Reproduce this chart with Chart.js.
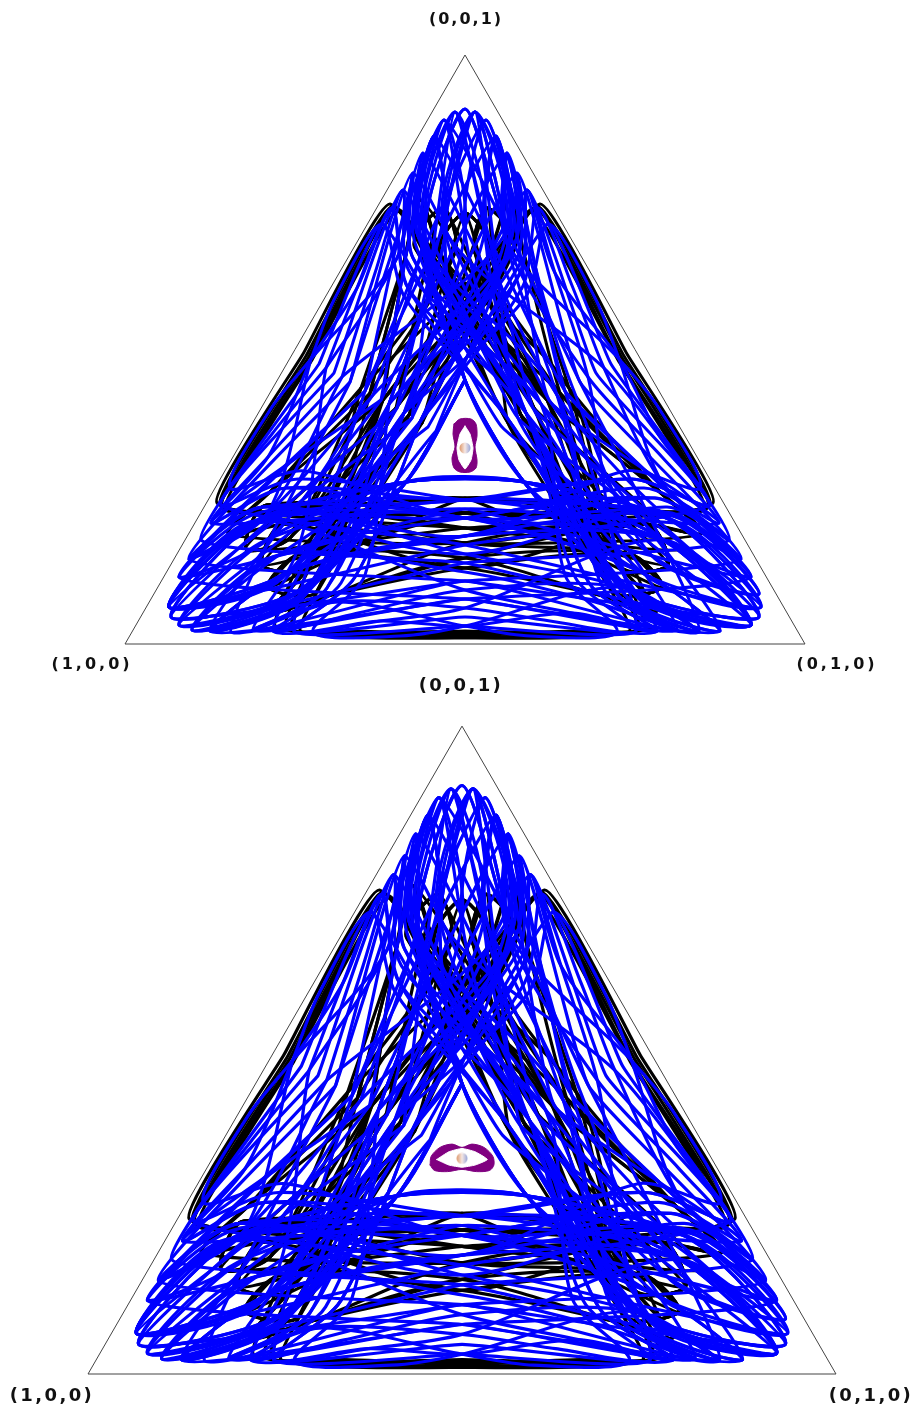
<!DOCTYPE html>
<html>
<head>
<meta charset="utf-8">
<script src="https://cdn.jsdelivr.net/npm/chart.js@4"></script>
<style>
  html, body { margin: 0; background: #fff; }
  body { position: relative; width: 914px; height: 1407px; overflow: hidden; }
  canvas { position: absolute; left: 0; }
  .corner { position: absolute; transform: translate(-50%, -50%); font-family: "DejaVu Sans"; font-weight: bold; color: #111; white-space: nowrap; }
</style>
</head>
<body>
<canvas id="topChart" width="914" height="690" style="top:0"></canvas>
<canvas id="bottomChart" width="914" height="735" style="top:672px"></canvas>
<script>
// simplex outline, same units for both panels (base 680, height 589)
const triangleX = [0, 680, 340, 0];
const triangleY = [0, 0, 589, 0];
const restPoint = [340, 196];

// innermost blue turns, they pass the three corners of the white triangle
const blueInnerTurns = [
  [380,414,340,535,300,414,340,264,399,162,509,52,634,27,549,122,399,162,281,162,131,122,46,27,171,52,281,162,340,264],
  [382,414,350,532,320,414,340,264,399,162,519,70,636,37,550,123,399,162,281,162,131,122,46,27,171,52,281,162,340,264],
  [360,414,330,532,298,414,340,264,399,162,509,52,634,27,549,122,399,162,281,162,130,123,44,37,161,70,281,162,340,264],
  [380,414,340,535,300,414,340,264,399,162,508,51,626,19,539,104,399,162,281,162,141,104,54,19,172,51,281,162,340,264],
  [340,411,319,524,295,411,340,264,399,162,508,51,626,19,539,104,399,162,281,162,130,123,44,37,161,70,281,162,340,264],
  [382,414,350,532,320,414,340,264,399,162,508,51,626,19,539,104,399,162,281,162,154,89,67,14,177,50,281,162,340,264]
];

// x,y pairs read along the blue orbit, one closed turn per row
const blueTurns = [
  [385,411,361,524,340,411,401,231,519,70,636,37,550,123,340,144,141,104,54,19,172,51,311,213],
  [320,408,309,508,293,408,401,231,500,49,595,13,514,73,340,126,130,123,44,37,161,70,264,240],
  [387,408,371,508,360,408,401,231,508,51,626,19,539,104,340,108,166,73,85,13,180,49,295,222],
  [250,371,278,454,285,371,416,240,500,49,595,13,514,73,340,126,138,137,64,85,142,130,217,267],
  [390,401,382,491,382,401,463,267,537,187,594,121,519,156,340,126,130,123,44,37,161,70,279,231],
  [360,414,330,532,298,414,401,231,492,50,574,12,496,57,340,54,233,31,148,13,216,61,279,231],
  [210,346,257,420,280,346,385,222,492,50,574,12,496,57,340,90,138,137,64,85,142,130,186,285],
  [390,401,382,491,382,401,494,285,535,234,575,156,500,173,340,108,138,137,64,85,142,130,248,249],
  [390,401,382,491,382,401,432,249,492,50,574,12,496,57,340,18,275,8,188,12,240,69,264,240],
  [232,356,267,436,283,356,385,222,508,51,626,19,539,104,340,126,161,156,86,121,143,187,186,285],
  [395,371,402,454,430,371,494,285,533,210,584,139,507,165,340,144,130,123,44,37,161,70,279,231],
  [382,414,350,532,320,414,401,231,464,61,532,13,447,31,340,18,255,23,169,13,230,67,295,222],
  [232,356,267,436,283,356,401,231,464,61,532,13,447,31,340,54,130,123,44,37,161,70,201,276],
  [382,414,350,532,320,414,479,276,533,210,584,139,507,165,340,144,161,156,86,121,143,187,217,267],
  [395,371,402,454,430,371,463,267,508,51,626,19,539,104,340,36,255,23,169,13,230,67,295,222],
  [400,346,423,420,470,346,494,285,538,160,604,104,530,146,340,108,166,73,85,13,180,49,279,231],
  [320,408,309,508,293,408,416,240,440,69,492,12,405,8,340,18,210,42,128,14,202,56,264,240],
  [272,386,288,471,288,386,416,240,534,107,626,67,547,131,340,126,180,173,105,156,145,234,186,285],
  [392,386,392,471,408,386,447,258,526,89,634,50,548,128,340,108,166,73,85,13,180,49,264,240],
  [320,408,309,508,293,408,432,249,478,56,552,14,470,42,340,72,154,89,67,14,177,50,264,240],
  [387,408,371,508,360,408,432,249,538,130,616,85,542,137,340,90,130,123,44,37,161,70,295,222],
  [298,401,298,491,290,401,385,222,508,51,626,19,539,104,340,144,133,131,54,67,146,107,248,249],
  [397,356,413,436,448,356,479,276,538,160,604,104,530,146,340,126,154,89,67,14,177,50,295,222],
  [340,411,319,524,295,411,401,231,450,67,511,13,425,23,340,36,210,42,128,14,202,56,279,231],
  [272,386,288,471,288,386,401,231,526,89,634,50,548,128,340,144,173,165,96,139,147,210,201,276]
];

// the nearly straight blue turns that run parallel to the sides
const blueSideTurns = [
  [257,420,377,217,626,19,340,81,76,104,194,280],
  [278,454,393,226,636,37,340,99,96,139,209,271],
  [288,471,408,236,634,27,340,63,64,85,225,262],
  [298,491,424,244,595,13,340,45,54,67,240,253],
  [309,508,440,253,626,67,340,135,86,121,256,244],
  [423,420,486,280,604,104,340,81,54,19,303,217],
  [402,454,471,271,584,139,340,99,44,37,287,226],
  [392,471,455,262,616,85,340,63,46,27,272,236],
  [382,491,440,253,626,67,340,45,85,13,256,244],
  [371,508,424,244,594,121,340,135,54,67,240,253],
  [350,532,393,226,532,13,340,27,148,13,272,236],
  [330,532,408,236,552,14,340,45,128,14,287,226],
  [361,524,440,253,511,13,340,18,169,13,240,253],
  [319,524,455,262,574,12,340,63,106,12,225,262]
];

// x,y pairs read along the black orbit
const blackTurns = [
  [235,381,270,436,305,386,396,229,496,77,543,79,521,120,340,131,158,131,97,137,128,195,186,285],
  [375,386,410,436,445,381,494,285,552,195,583,137,522,131,340,131,159,120,137,79,184,77,284,229],
  [365,391,340,431,315,391,396,229,487,71,513,15,447,13,340,10,233,13,167,15,193,71,284,229],
  [280,386,295,444,315,391,396,229,488,53,537,57,504,90,340,116,142,139,121,95,166,107,245,251],
  [390,396,362,436,350,391,435,251,534,153,577,111,521,120,340,131,142,139,121,95,166,107,271,236],
  [390,396,362,436,350,391,409,236,488,53,537,57,504,90,340,86,206,49,148,33,184,77,284,229],
  [280,386,295,444,315,391,409,236,488,53,537,57,504,90,340,101,142,139,121,95,166,107,236,256],
  [390,396,362,436,350,391,444,256,534,153,577,111,521,120,340,116,142,139,121,95,166,107,258,244],
  [390,396,362,436,350,391,422,244,488,53,537,57,504,90,340,76,206,49,148,33,184,77,271,236],
  [365,391,340,431,315,391,422,244,496,77,543,79,521,120,340,101,159,120,137,79,184,77,258,244],
  [365,391,340,431,315,391,444,256,496,77,543,79,521,120,340,76,159,120,137,79,184,77,236,256],
  [365,391,385,444,400,386,444,256,496,77,543,79,521,120,340,86,206,49,148,33,184,77,284,229],
  [330,391,318,436,290,396,435,251,534,153,577,111,521,120,340,131,159,120,103,111,146,153,236,256],
  [280,386,295,444,315,391,396,229,496,77,532,33,474,49,340,76,176,90,143,57,192,53,245,251],
  [365,391,385,444,400,386,435,251,496,77,543,79,521,120,340,101,206,49,148,33,184,77,297,221],
  [280,386,295,444,315,391,383,221,496,77,532,33,474,49,340,86,176,90,143,57,192,53,258,244],
  [330,391,318,436,290,396,422,244,534,153,577,111,521,120,340,146,159,120,103,111,146,153,245,251]
];

// black turns of the thick band just inside each side
const blackBandTurns = [
  [270,436,396,229,543,79,340,131,97,137,183,286],
  [268,438,409,236,559,95,340,116,95,139,181,288],
  [273,433,383,221,537,57,340,146,100,134,187,284],
  [265,440,422,244,577,111,340,101,92,141,178,290],
  [410,436,497,286,583,137,340,131,137,79,284,229],
  [412,438,499,288,585,139,340,116,121,95,271,236],
  [407,433,493,284,580,134,340,146,143,57,297,221],
  [415,440,502,290,588,141,340,101,103,111,258,244],
  [340,431,396,229,513,15,340,8,167,15,284,229],
  [318,436,409,236,520,16,340,11,160,16,271,236],
  [362,436,383,221,505,14,340,6,175,14,297,221],
  [295,444,422,244,530,18,340,13,150,18,258,244]
];

// small orbit round the rest point: outer edge and the eye inside it
const purpleTopOuter = [329,220,335,225,346,225,351,220,352,208,350,197,352,184,351,176,345,172,335,172,329,176,327,186,330,197,328,210,329,220];
const purpleTopEye = [340,218,345,210,348,196,346,184,340,175,334,184,332,196,335,210,340,218];
const purpleBottomOuter = [311,190,312,198,320,206,331,209,340,206,349,209,360,206,368,198,369,190,365,185,353,184,340,186,327,184,315,185,311,190];
const purpleBottomEye = [317,195,328,202,340,205,352,202,363,195,352,190,340,188,328,190,317,195];

const cornerLabels = ['(0,0,1)', '(1,0,0)', '(0,1,0)'];

const BLUE = '#0000ff';
const PURPLE = '#800080';

function toPoints(flat) {
  const pts = [];
  for (let i = 0; i < flat.length; i += 2) pts.push({ x: flat[i], y: flat[i + 1] });
  return pts;
}

// a row ends on the side it started from, so join the last pair in front
function closedTurn(row) {
  return toPoints(row.slice(-2).concat(row));
}

function sphereSprite() {
  const c = document.createElement('canvas');
  c.width = 12;
  c.height = 12;
  const ctx = c.getContext('2d');
  const g = ctx.createLinearGradient(0, 0, 12, 0);
  g.addColorStop(0, '#d9905f');
  g.addColorStop(0.5, '#f6e8e4');
  g.addColorStop(1, '#8f9fd6');
  ctx.fillStyle = g;
  ctx.beginPath();
  ctx.arc(6, 6, 5.5, 0, Math.PI * 2);
  ctx.fill();
  return c;
}

function drawPanel(id, xRange, yRange, lineWidth, purpleOuter, purpleEye) {
  const line = (points, color, width, order, tension) => ({
    data: points, borderColor: color, borderWidth: width, pointRadius: 0,
    tension: tension, fill: false, showLine: true, order: order,
    borderJoinStyle: 'round', borderCapStyle: 'round'
  });
  const triangle = {
    data: triangleX.map((x, i) => ({ x: x, y: triangleY[i] })),
    borderColor: '#444', borderWidth: 1, pointRadius: 0, tension: 0, showLine: true, order: 9
  };
  const outer = line(toPoints(purpleOuter), PURPLE, 1, 7, 0.3);
  outer.fill = 'shape';
  outer.backgroundColor = PURPLE;
  const eye = line(toPoints(purpleEye), '#fff', 1, 6, 0.15);
  eye.fill = 'shape';
  eye.backgroundColor = '#fff';
  const sphere = {
    data: [{ x: restPoint[0], y: restPoint[1] }], showLine: false, pointRadius: 6,
    pointStyle: sphereSprite(), order: 1
  };
  return new Chart(document.getElementById(id), {
    type: 'scatter',
    data: { datasets: [
      triangle,
      ...blackTurns.map(row => line(closedTurn(row), '#000', lineWidth, 8, 0.3)),
      ...blackBandTurns.map(row => line(closedTurn(row), '#000', lineWidth, 8, 0.12)),
      outer, eye,
      ...blueInnerTurns.map(row => line(toPoints(row), BLUE, lineWidth, 2, 0.25)),
      ...blueTurns.map(row => line(closedTurn(row), BLUE, lineWidth, 2, 0.3)),
      ...blueSideTurns.map(row => line(closedTurn(row), BLUE, lineWidth, 2, 0.12)),
      sphere
    ] },
    options: {
      responsive: false,
      animation: false,
      layout: { padding: 0, autoPadding: false },
      plugins: { legend: { display: false }, tooltip: { enabled: false } },
      scales: {
        x: { type: 'linear', display: false, min: xRange[0], max: xRange[1] },
        y: { type: 'linear', display: false, min: yRange[0], max: yRange[1] }
      }
    }
  });
}

drawPanel('topChart', [-125, 789], [-46, 644], 3, purpleTopOuter, purpleTopEye);
drawPanel('bottomChart', [-80, 750.9], [-30, 638.2], 3.2, purpleBottomOuter, purpleBottomEye);

// corner names of each simplex
[
  [cornerLabels[0], 466, 18, 16, 2],
  [cornerLabels[1], 92, 663, 16, 3],
  [cornerLabels[2], 837, 663, 16, 3],
  [cornerLabels[0], 461, 684, 18, 2.4],
  [cornerLabels[1], 52, 1394, 18, 2.4],
  [cornerLabels[2], 871, 1394, 18, 2.4]
].forEach(l => {
  const el = document.createElement('div');
  el.className = 'corner';
  el.textContent = l[0];
  el.style.left = l[1] + 'px';
  el.style.top = l[2] + 'px';
  el.style.fontSize = l[3] + 'px';
  el.style.letterSpacing = l[4] + 'px';
  document.body.appendChild(el);
});
</script>
</body>
</html>
